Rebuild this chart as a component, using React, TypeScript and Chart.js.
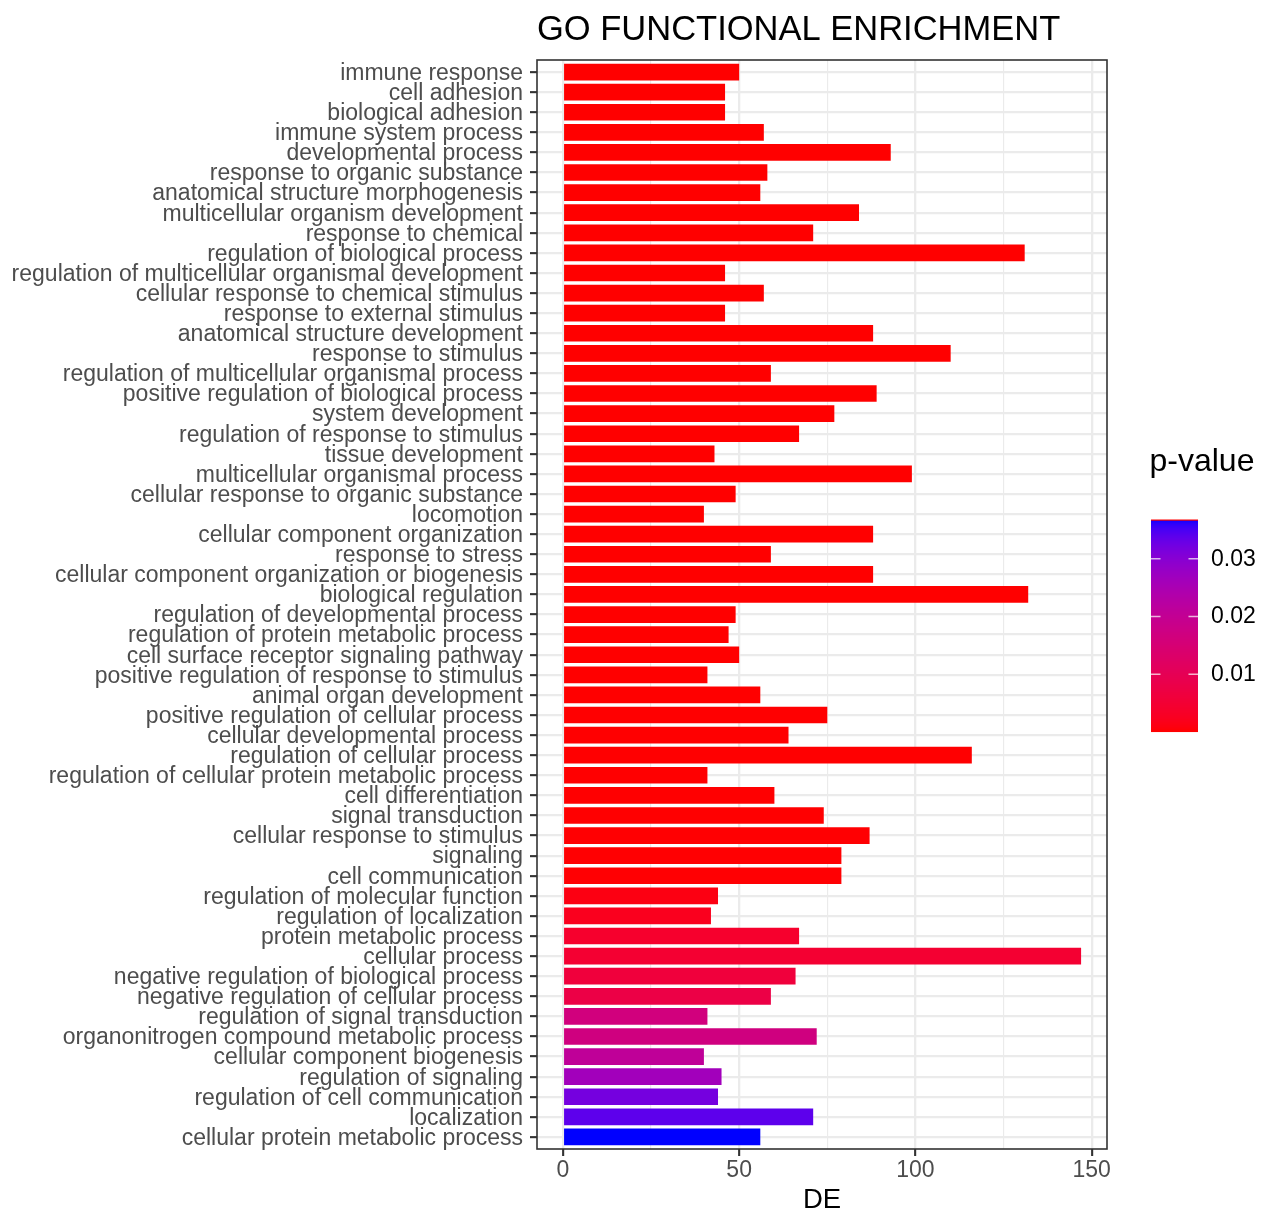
import React, { useEffect, useRef } from "react";
import { Chart, registerables } from "chart.js";

Chart.register(...registerables);

const categories: string[] = [
  "immune response",
  "cell adhesion",
  "biological adhesion",
  "immune system process",
  "developmental process",
  "response to organic substance",
  "anatomical structure morphogenesis",
  "multicellular organism development",
  "response to chemical",
  "regulation of biological process",
  "regulation of multicellular organismal development",
  "cellular response to chemical stimulus",
  "response to external stimulus",
  "anatomical structure development",
  "response to stimulus",
  "regulation of multicellular organismal process",
  "positive regulation of biological process",
  "system development",
  "regulation of response to stimulus",
  "tissue development",
  "multicellular organismal process",
  "cellular response to organic substance",
  "locomotion",
  "cellular component organization",
  "response to stress",
  "cellular component organization or biogenesis",
  "biological regulation",
  "regulation of developmental process",
  "regulation of protein metabolic process",
  "cell surface receptor signaling pathway",
  "positive regulation of response to stimulus",
  "animal organ development",
  "positive regulation of cellular process",
  "cellular developmental process",
  "regulation of cellular process",
  "regulation of cellular protein metabolic process",
  "cell differentiation",
  "signal transduction",
  "cellular response to stimulus",
  "signaling",
  "cell communication",
  "regulation of molecular function",
  "regulation of localization",
  "protein metabolic process",
  "cellular process",
  "negative regulation of biological process",
  "negative regulation of cellular process",
  "regulation of signal transduction",
  "organonitrogen compound metabolic process",
  "cellular component biogenesis",
  "regulation of signaling",
  "regulation of cell communication",
  "localization",
  "cellular protein metabolic process",
];

const deCounts: number[] = [
  50, 46, 46, 57, 93, 58, 56, 84, 71, 131,
  46, 57, 46, 88, 110, 59, 89, 77, 67, 43,
  99, 49, 40, 88, 59, 88, 132, 49, 47, 50,
  41, 56, 75, 64, 116, 41, 60, 74, 87, 79,
  79, 44, 42, 67, 147, 66, 59, 41, 72, 40,
  45, 44, 71, 56,
];

const pValues: number[] = [
  1e-10, 3e-10, 3e-10, 1e-9, 2e-9, 4e-9, 8e-9, 1e-8, 2e-8, 3e-8,
  5e-8, 8e-8, 1e-7, 1.5e-7, 2e-7, 3e-7, 4e-7, 6e-7, 8e-7, 1e-6,
  1.5e-6, 2e-6, 3e-6, 4e-6, 5e-6, 6e-6, 8e-6, 1e-5, 1.3e-5, 1.6e-5,
  2e-5, 2.5e-5, 3e-5, 3.5e-5, 4e-5, 5e-5, 6e-5, 8e-5, 1e-4, 1.3e-4,
  1.6e-4, 0.0011, 0.0022, 0.004, 0.0048, 0.0062, 0.0077, 0.0165, 0.0169, 0.0209,
  0.0264, 0.0319, 0.0338, 0.0367,
];

const xTicks: number[] = [0, 25, 50, 75, 100, 125, 150];
const legendTicks: number[] = [0.01, 0.02, 0.03];

const FONT = '"Liberation Sans", Arial, Helvetica, sans-serif';

// --- Lab colour interpolation (like ggplot's scale_fill_gradient) ---
const Xn = 0.95047, Yn = 1.0, Zn = 1.08883;
function toLin(c: number) {
  c /= 255;
  return c <= 0.04045 ? c / 12.92 : Math.pow((c + 0.055) / 1.055, 2.4);
}
function toSrgb(c: number) {
  const v = c <= 0.0031308 ? 12.92 * c : 1.055 * Math.pow(Math.max(c, 0), 1 / 2.4) - 0.055;
  return Math.round(Math.max(0, Math.min(1, v)) * 255);
}
function fLab(t: number) {
  return t > 0.008856 ? Math.cbrt(t) : 7.787 * t + 16 / 116;
}
function fInv(t: number) {
  return t > 0.206893 ? t * t * t : (t - 16 / 116) / 7.787;
}
function rgbToLab(rgb: number[]) {
  const R = toLin(rgb[0]), G = toLin(rgb[1]), B = toLin(rgb[2]);
  const X = 0.4124 * R + 0.3576 * G + 0.1805 * B;
  const Y = 0.2126 * R + 0.7152 * G + 0.0722 * B;
  const Z = 0.0193 * R + 0.1192 * G + 0.9505 * B;
  const fx = fLab(X / Xn), fy = fLab(Y / Yn), fz = fLab(Z / Zn);
  return [116 * fy - 16, 500 * (fx - fy), 200 * (fy - fz)];
}
function labToRgbStr(L: number, a: number, b: number) {
  const fy = (L + 16) / 116;
  const fx = fy + a / 500;
  const fz = fy - b / 200;
  const X = Xn * fInv(fx), Y = Yn * fInv(fy), Z = Zn * fInv(fz);
  const R = 3.2406 * X - 1.5372 * Y - 0.4986 * Z;
  const G = -0.9689 * X + 1.8758 * Y + 0.0415 * Z;
  const B = 0.0557 * X - 0.204 * Y + 1.057 * Z;
  return `rgb(${toSrgb(R)},${toSrgb(G)},${toSrgb(B)})`;
}
const LOW = rgbToLab([255, 0, 0]);
const HIGH = rgbToLab([0, 0, 255]);
function gradColor(t: number) {
  const u = Math.max(0, Math.min(1, t));
  return labToRgbStr(
    LOW[0] + (HIGH[0] - LOW[0]) * u,
    LOW[1] + (HIGH[1] - LOW[1]) * u,
    LOW[2] + (HIGH[2] - LOW[2]) * u
  );
}

const pMin = Math.min(...pValues);
const pMax = Math.max(...pValues);
const barColors = pValues.map((p) => gradColor((p - pMin) / (pMax - pMin)));

export default function App() {
  const canvasRef = useRef<HTMLCanvasElement | null>(null);

  useEffect(() => {
    const canvas = canvasRef.current;
    if (!canvas) return;

    const decorPlugin = {
      id: "decor",
      afterDraw(chart: any) {
        const { ctx, chartArea } = chart;
        ctx.save();
        // panel border
        ctx.strokeStyle = "#333333";
        ctx.lineWidth = 1.6;
        ctx.strokeRect(chartArea.left, chartArea.top, chartArea.right - chartArea.left, chartArea.bottom - chartArea.top);

        // title
        ctx.fillStyle = "#000000";
        ctx.font = `34.5px ${FONT}`;
        ctx.textAlign = "left";
        ctx.textBaseline = "alphabetic";
        ctx.fillText("GO FUNCTIONAL ENRICHMENT", chartArea.left, 40);

        // legend title
        ctx.font = `32px ${FONT}`;
        ctx.fillText("p-value", 1149.5, 471);

        // colour bar
        const bx = 1151, by = 520, bw = 47, bh = 212;
        for (let i = 0; i < bh; i++) {
          const t = 1 - (i + 0.5) / bh;
          ctx.fillStyle = gradColor(t);
          ctx.fillRect(bx, by + i, bw, 1.05);
        }
        ctx.fillStyle = "#FF0000";
        ctx.fillRect(bx, by - 0.5, bw, 1.2);

        ctx.strokeStyle = "rgba(255,255,255,0.7)";
        ctx.lineWidth = 1.4;
        ctx.font = `23px ${FONT}`;
        ctx.textBaseline = "middle";
        legendTicks.forEach((v) => {
          const yy = by + bh - ((v - pMin) / (pMax - pMin)) * bh;
          ctx.beginPath();
          ctx.moveTo(bx, yy);
          ctx.lineTo(bx + 9.5, yy);
          ctx.moveTo(bx + bw - 9.5, yy);
          ctx.lineTo(bx + bw, yy);
          ctx.stroke();
          ctx.fillStyle = "#000000";
          ctx.fillText(v.toFixed(2), 1211, yy + 0.5);
        });
        ctx.restore();
      },
    };

    const chart = new Chart(canvas, {
      type: "bar",
      data: {
        labels: categories,
        datasets: [
          {
            data: deCounts.map((v, i) => ({ x: v, y: i })) as any,
            backgroundColor: barColors,
            borderWidth: 0,
            barPercentage: 0.83,
            categoryPercentage: 1,
          },
        ],
      },
      options: {
        animation: false,
        responsive: false,
        indexAxis: "y",
        layout: { padding: { top: 60, right: 161, bottom: 0, left: 0 } },
        plugins: {
          legend: { display: false },
          tooltip: { enabled: false },
          title: { display: false },
        },
        scales: {
          x: {
            type: "linear",
            position: "bottom",
            offset: false,
            min: -7.35,
            max: 154.35,
            afterBuildTicks: (s: any) => {
              s.ticks = xTicks.map((v) => ({ value: v }));
            },
            afterFit: (s: any) => {
              s.height = 62;
            },
            ticks: {
              autoSkip: false,
              maxRotation: 0,
              padding: 1,
              color: "#4D4D4D",
              font: { family: FONT, size: 23 },
              callback: (v: any) => (Number(v) % 50 === 0 ? String(v) : ""),
            },
            grid: {
              offset: false,
              color: "#EBEBEB",
              lineWidth: (c: any) => (c.tick && c.tick.value % 50 === 0 ? 2.3 : 1.15),
              tickColor: (c: any) => (c.tick && c.tick.value % 50 === 0 ? "#333333" : "rgba(0,0,0,0)"),
              tickWidth: 2.1,
              tickLength: 7,
              drawTicks: true,
            },
            border: { display: false },
            title: {
              display: true,
              text: "DE",
              color: "#000000",
              font: { family: FONT, size: 27.5, lineHeight: 0.5 },
              padding: { top: 0, bottom: 3.8 },
            },
          },
          y: {
            type: "linear",
            offset: false,
            min: -0.6,
            max: categories.length - 0.4,
            reverse: true,
            afterBuildTicks: (s: any) => {
              s.ticks = categories.map((_, i) => ({ value: i }));
            },
            afterFit: (s: any) => {
              s.width = 537;
            },
            ticks: {
              autoSkip: false,
              padding: 7,
              labelOffset: 1.5,
              color: "#4D4D4D",
              font: { family: FONT, size: 23 },
              callback: (v: any) => categories[Number(v)] ?? "",
            },
            grid: {
              offset: false,
              color: "#EBEBEB",
              lineWidth: 2.3,
              tickColor: "#333333",
              tickWidth: 2.1,
              tickLength: 7,
              drawTicks: true,
            },
            border: { display: false },
          },
        },
      } as any,
      plugins: [decorPlugin],
    });

    return () => {
      chart.destroy();
    };
  }, []);

  return (
    <div style={{ position: "absolute", left: 0, top: 0, width: 1268, height: 1211, background: "#ffffff" }}>
      <canvas ref={canvasRef} width={1268} height={1211} style={{ display: "block" }} />
    </div>
  );
}
